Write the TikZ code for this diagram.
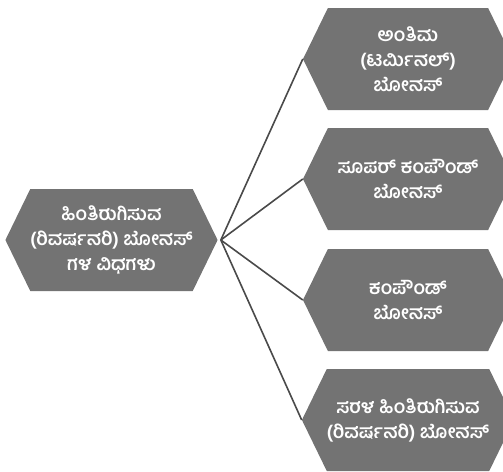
\documentclass[tikz,border=0pt]{standalone}
\usepackage{fontspec}
\newfontfamily\kannada[Script=Kannada]{Hind Mysuru}
\usetikzlibrary{shapes.symbols}
\definecolor{hexgrau}{HTML}{737373}
\definecolor{liniengrau}{HTML}{4A4A4A}
\tikzset{
  sechseck/.style={shape=signal, signal to=west and east, signal pointer angle=128,
    fill=hexgrau, text=white, minimum width=210pt, minimum height=102pt,
    inner sep=0pt, align=center, font=\kannada\bfseries\fontsize{18.8}{25}\selectfont},
  verbindung/.style={draw=liniengrau, line width=1.6pt}
}
\begin{document}
\begin{tikzpicture}[x=1pt,y=-1pt]
	 \useasboundingbox (0,0) rectangle (503,471);
	 %
	 \node (arten) at (111.5,240) [sechseck] {ಹಿಂತಿರುಗಿಸುವ\\(ರಿವರ್ಷನರಿ) ಬೋನಸ್\\ಗಳ ವಿಧಗಳು};
	 %
	 \node (antima) at (408,59) [sechseck] {ಅಂತಿಮ\\(ಟರ್ಮಿನಲ್)\\ಬೋನಸ್};
	 %
	 \node (super) at (408,179) [sechseck] {ಸೂಪರ್ ಕಂಪೌಂಡ್\\ಬೋನಸ್};
	 %
	 \node (kampound) at (408,300) [sechseck] {ಕಂಪೌಂಡ್\\ಬೋನಸ್};
	 %
	 \node (sarala) at (408,420) [sechseck] {ಸರಳ ಹಿಂತಿರುಗಿಸುವ\\(ರಿವರ್ಷನರಿ) ಬೋನಸ್};
	 %
	 %Arten-Antima
	 \draw[verbindung] ([xshift=3pt]arten.east) -- (antima.west);
	 %
	 %Arten-Super
	 \draw[verbindung] ([xshift=3pt]arten.east) -- (super.west);
	 %
	 %Arten-Kampound
	 \draw[verbindung] ([xshift=3pt]arten.east) -- (kampound.west);
	 %
	 %Arten-Sarala
	 \draw[verbindung] ([xshift=3pt]arten.east) -- (sarala.west);
\end{tikzpicture}
\end{document}
